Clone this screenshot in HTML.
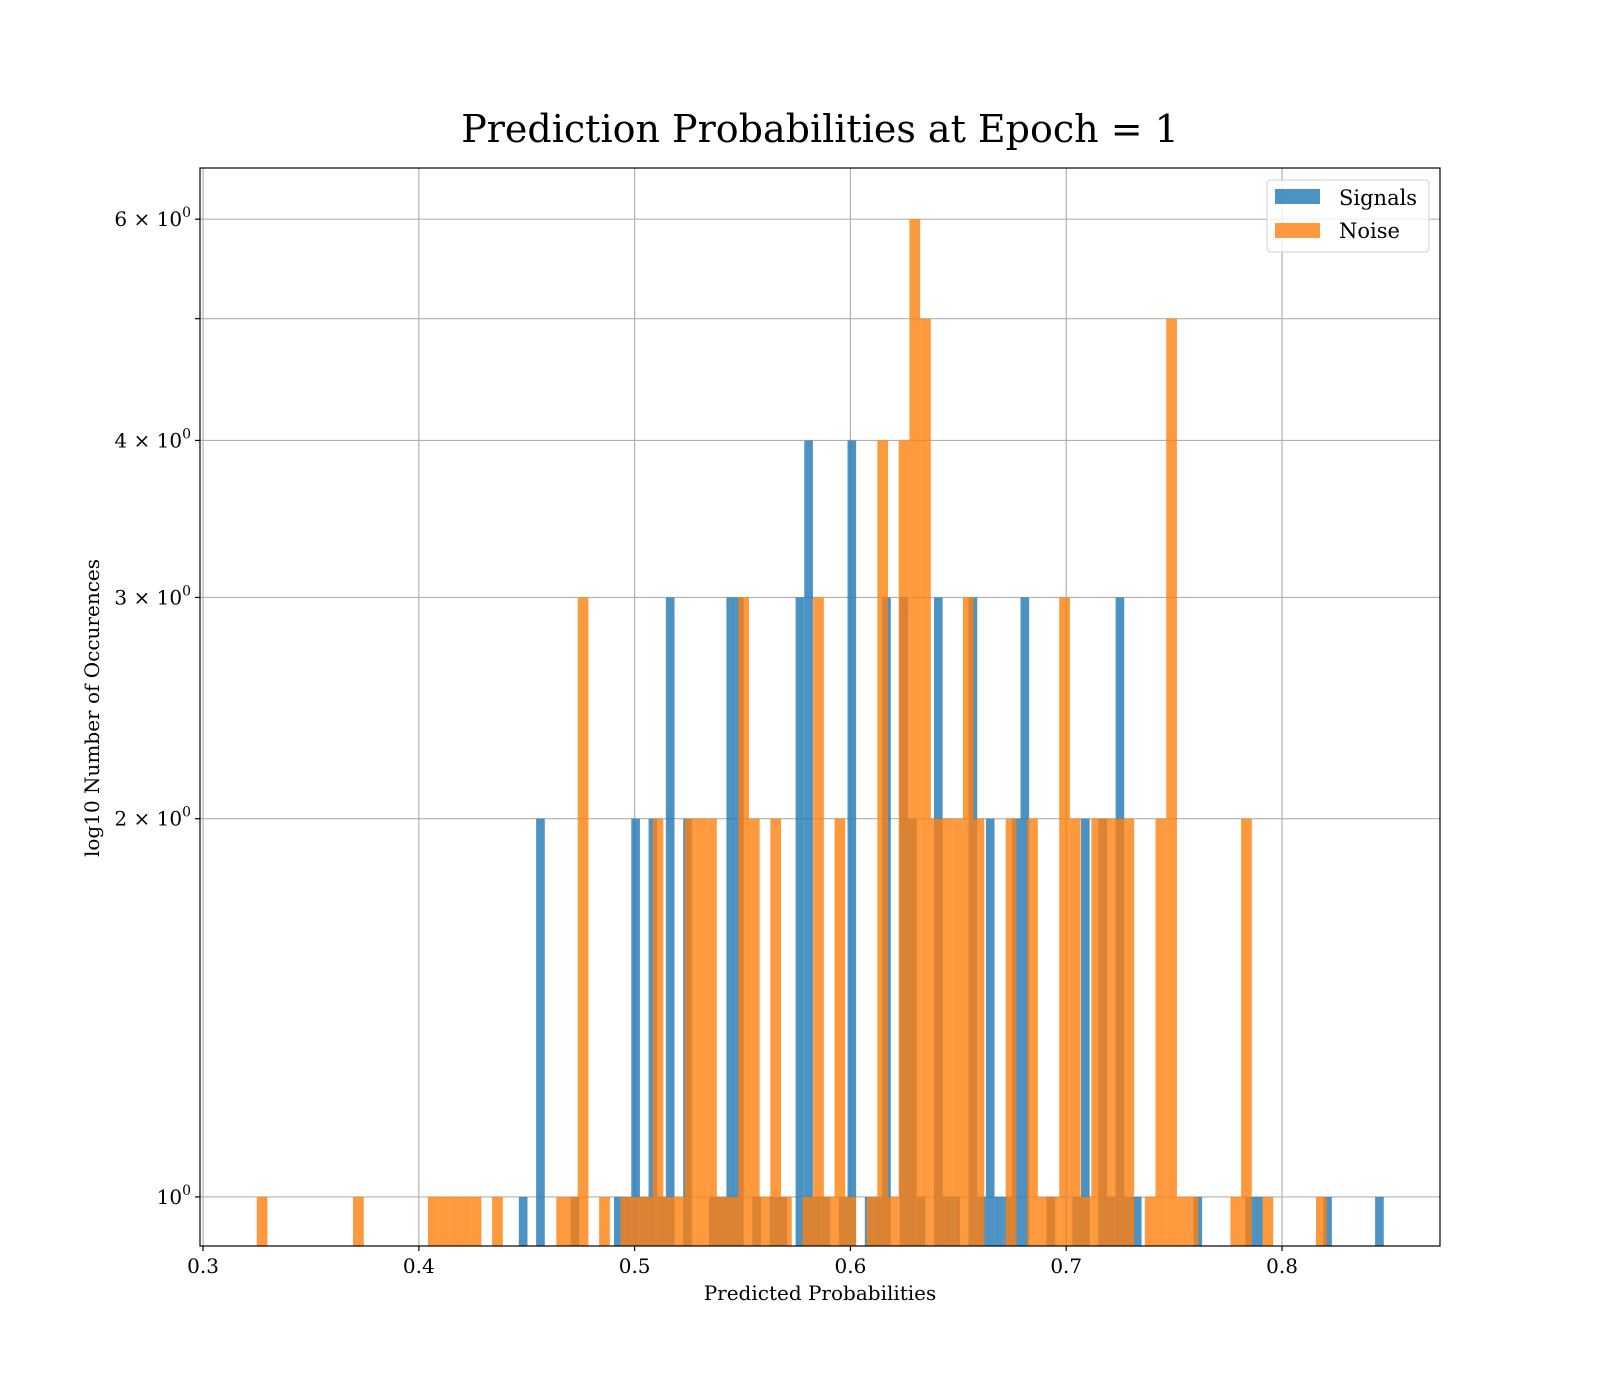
<!DOCTYPE html>
<html><head><meta charset="utf-8"><style>
html,body{margin:0;padding:0;background:#fff;}
svg{display:block;font-family:"DejaVu Serif","Liberation Serif",serif;}
</style></head><body>
<svg id="chart" width="1600" height="1400" viewBox="0 0 1600 1400" xmlns="http://www.w3.org/2000/svg">
<rect x="0" y="0" width="1600" height="1400" fill="#fff"/>
<text x="820" y="142" text-anchor="middle" font-size="38" fill="#000">Prediction Probabilities at Epoch = 1</text>
<g id="grid"></g>
<g id="bars"></g>
<rect x="200" y="168" width="1240" height="1078" fill="none" stroke="#000" stroke-width="1.2"/>
<g id="ticks"></g>
<text x="820" y="1300" text-anchor="middle" font-size="20" fill="#000">Predicted Probabilities</text>
<text transform="translate(99,708) rotate(-90)" text-anchor="middle" font-size="20" fill="#000">log10 Number of Occurences</text>
<g>
<rect x="1267" y="180" width="162" height="72" rx="4" fill="#fff" fill-opacity="0.8" stroke="#d0d0d0"/>
<rect x="1275" y="189" width="45" height="15" fill="#1f77b4" fill-opacity="0.8"/>
<text x="1339" y="205" font-size="21" fill="#000">Signals</text>
<rect x="1275" y="223" width="45" height="15" fill="#ff7f0e" fill-opacity="0.8"/>
<text x="1339" y="238" font-size="21" fill="#000">Noise</text>
</g>
</svg>
<script>
const signalStart = 0.44634;
const signalBinWidth = 0.004008;
const signalCounts = [1,0,2,0,0,0,1,0,0,0, 0,1,1,2,1,2,1,3,0,2, 0,0,1,1,3,3,0,1,0,1, 1,0,3,4,1,1,0,1,4,0, 1,1,3,0,3,2,1,0,3,1, 1,0,3,1,2,1,1,2,3,0, 0,1,0,0,1,2,0,2,1,3, 1,1,0,0,0,0,0,0,1,0, 0,0,0,0,1,1,0,0,0,0, 0,0,0,1,0,0,0,0,0,1];
const noiseStart = 0.3249;
const noiseBinWidth = 0.004958;
const noiseCounts = [1,0,0,0,0,0,0,0,0,1, 0,0,0,0,0,0,1,1,1,1, 1,0,1,0,0,0,0,0,1,1, 3,0,1,0,1,1,1,2,1,1, 2,2,2,1,1,3,2,1,2,1, 0,1,3,1,2,1,0,1,4,1, 4,6,5,2,2,2,3,2,0,0, 2,0,2,1,1,3,2,1,2,2, 2,2,0,1,2,5,1,1,0,0, 0,1,2,0,1,0,0,0,0,1];
const xTicks = [0.3,0.4,0.5,0.6,0.7,0.8];
const xTickLabels = ["0.3","0.4","0.5","0.6","0.7","0.8"];
const yTicks = [1,2,3,4,5,6];
const yTickLabels = ["1","2","3","4","","6"];

const L=200,R=1440,T=168,B=1246;
const xMin=0.2986,xMax=0.8732;
const yLogMin=Math.log10(0.914),yLogMax=Math.log10(6.59);
function xs(v){return L+(v-xMin)/(xMax-xMin)*(R-L);}
function ys(c){return B-(Math.log10(c)-yLogMin)/(yLogMax-yLogMin)*(B-T);}
const NS="http://www.w3.org/2000/svg";
function mk(tag,attrs,parent){const e=document.createElementNS(NS,tag);for(const k in attrs)e.setAttribute(k,attrs[k]);parent.appendChild(e);return e;}
const grid=document.getElementById('grid'),bars=document.getElementById('bars'),ticks=document.getElementById('ticks');
xTicks.forEach((v,i)=>{
  const x=xs(v);
  const g=mk('line',{x1:x,x2:x,y1:T,y2:B,stroke:'#b0b0b0','stroke-width':1.2},grid);
  
  
  const t=mk('line',{x1:x,x2:x,y1:B,y2:B+5,stroke:'#000','stroke-width':1.2},ticks);
  
  
  const l=mk('text',{x:x,y:B+27,'text-anchor':'middle','font-size':20,fill:'#000'},ticks);
  
  
  l.textContent=xTickLabels[i];
});
yTicks.forEach((v,i)=>{
  const y=ys(v);
  const g=mk('line',{x1:L,x2:R,y1:y,y2:y,stroke:'#b0b0b0','stroke-width':1.2},grid);
  
  
  const t=mk('line',{x1:L-5,x2:L,y1:y,y2:y,stroke:'#000','stroke-width':1.2},ticks);
  
  
  if(yTickLabels[i]!==""){
    const l=mk('text',{x:L-9,y:y+7,'text-anchor':'end','font-size':20,fill:'#000'},ticks);
    
    
    if(yTickLabels[i]==="1"){l.innerHTML='10<tspan dy="-9" font-size="14">0</tspan>';}
    else{l.innerHTML=yTickLabels[i]+' × 10<tspan dy="-9" font-size="14">0</tspan>';}
  }
});
function drawSeries(start,w,counts,color,name){
  counts.forEach((c,i)=>{
    if(c<=0)return;
    const x0=xs(start+i*w),x1=xs(start+(i+1)*w);
    const y=ys(c);
    const r=mk('rect',{x:x0,y:y,width:x1-x0,height:B-y,fill:color,'fill-opacity':0.8},bars);
    
    
  });
}
drawSeries(signalStart,signalBinWidth,signalCounts,'#1f77b4','signal-bar');
drawSeries(noiseStart,noiseBinWidth,noiseCounts,'#ff7f0e','noise-bar');
</script>
</body></html>
